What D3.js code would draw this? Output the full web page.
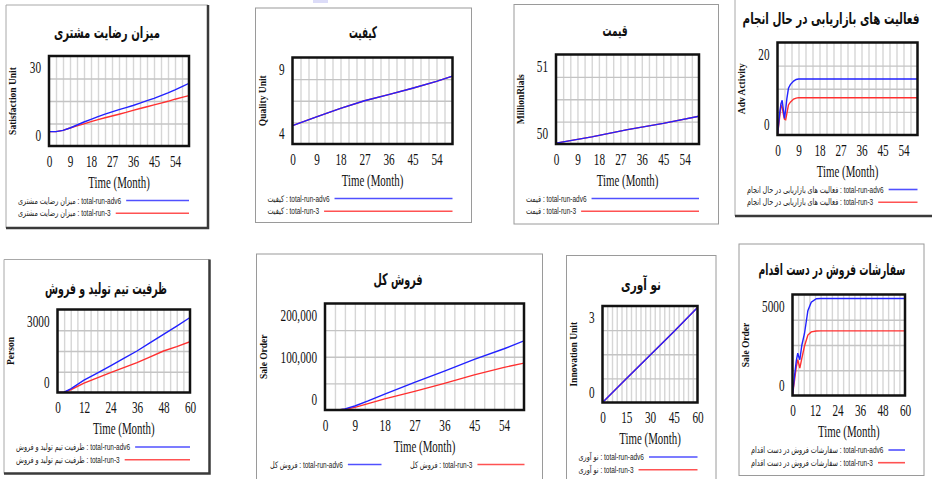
<!DOCTYPE html>
<html>
<head>
<meta charset="utf-8">
<title>Vensim runs</title>
<script src="https://cdn.jsdelivr.net/npm/d3@7"></script>
<style>
  body { margin: 0; background: #fff; }
  svg { display: block; }
</style>
</head>
<body>
<svg id="chart" width="932" height="479"></svg>
<script>
// ---- data ----
var runNames = ["total-run-adv6", "total-run-3"];

var titles = ["میزان رضایت مشتری", "کیفیت", "قیمت", "فعالیت های بازاریابی در حال انجام",
              "ظرفیت تیم تولید و فروش", "فروش کل", "نو آوری", "سفارشات فروش در دست اقدام"];
var units = ["Satisfaction Unit", "Quality Unit", "MillionRials", "Adv Activity",
             "Person", "Sale Order", "Innovation Unit", "Sale Order"];

var yRanges = [[0, 30], [4, 9], [50, 51], [0, 20], [0, 3000], [0, 200000], [0, 3], [0, 5000]];
var yTickValues = [[0, 30], [4, 9], [50, 51], [0, 20], [0, 3000], [0, 100000, 200000], [0, 3], [0, 5000]];
var yTickLabels = [["0", "30"], ["4", "9"], ["50", "51"], ["0", "20"], ["0", "3000"],
                   ["0", "100,000", "200,000"], ["0", "3"], ["0", "5000"]];

var ticks9 = [0, 9, 18, 27, 36, 45, 54];
var ticks12 = [0, 12, 24, 36, 48, 60];
var ticks15 = [0, 15, 30, 45, 60];
var xTickSets = [ticks9, ticks9, ticks9, ticks9, ticks12, ticks9, ticks15, ticks12];

// satisfaction
var satT    = [0, 3, 6, 9, 12, 15, 18, 21, 24, 27, 30, 33, 36, 39, 42, 45, 48, 51, 54, 57, 60];
var satAdv6 = [4.8, 4.8, 5.2, 6.0, 7.0, 8.0, 8.9, 9.8, 10.6, 11.4, 12.1, 12.8, 13.5, 14.3, 15.1, 15.9, 16.8, 17.7, 18.7, 19.8, 20.9];
var satRun3 = [4.8, 4.8, 5.2, 6.0, 6.7, 7.4, 8.1, 8.8, 9.4, 10.0, 10.6, 11.2, 11.9, 12.5, 13.1, 13.7, 14.3, 14.9, 15.6, 16.2, 16.8];
// quality
var qualT    = [0, 9, 18, 27, 36, 45, 54, 60];
var qualAdv6 = [5.06, 5.57, 6.06, 6.50, 6.85, 7.22, 7.62, 7.92];
var qualRun3 = [5.06, 5.57, 6.06, 6.50, 6.85, 7.22, 7.62, 7.92];
// price
var priceT    = [0, 15, 30, 45, 60];
var priceAdv6 = [50.01, 50.08, 50.16, 50.23, 50.31];
var priceRun3 = [50.01, 50.08, 50.16, 50.23, 50.31];
// advertising activity
var advT    = [0, 0.5, 1, 1.5, 2, 2.5, 3, 3.5, 4, 4.7, 5.5, 6.9, 8, 9, 60];
var advAdv6 = [0, 2.5, 5.0, 6.8, 7.5, 5.5, 3.6, 5.5, 7.8, 10.1, 10.9, 11.65, 12.0, 12.1, 12.1];
var advRun3 = [0, 2.0, 4.2, 6.4, 6.0, 4.5, 3.4, 3.3, 4.6, 6.5, 7.1, 7.76, 7.98, 8.07, 8.07];
// sales team capacity
var perT    = [0, 3, 6, 12, 18, 24, 30, 36, 42, 48, 54, 60];
var perAdv6 = [0, 10, 130, 450, 700, 960, 1230, 1500, 1800, 2100, 2400, 2710];
var perRun3 = [0, 10, 100, 340, 530, 720, 900, 1080, 1290, 1500, 1660, 1835];
// total sales
var salesT    = [0, 4, 6, 9, 13, 18, 27, 36, 45, 54, 60];
var salesAdv6 = [0, 300, 2000, 7500, 17000, 30000, 52000, 73000, 95000, 115000, 130000];
var salesRun3 = [0, 300, 1500, 5000, 12000, 21000, 35000, 50000, 66000, 80000, 88000];
// innovation
var innoT    = [0, 15, 30, 45, 60];
var innoAdv6 = [0, 0.74, 1.47, 2.2, 2.95];
var innoRun3 = [0, 0.74, 1.47, 2.2, 2.95];
// sale orders in progress
var ordT    = [0, 1, 2, 2.8, 3.4, 3.9, 5, 6.4, 8.2, 10, 12.7, 15, 60];
var ordAdv6 = [0, 900, 1700, 2100, 1900, 1770, 2500, 3070, 4200, 4620, 4790, 4800, 4800];
var ordRun3 = [0, 700, 1400, 1770, 1550, 1360, 1850, 2450, 2990, 3150, 3190, 3200, 3200];

var times = [satT, qualT, priceT, advT, perT, salesT, innoT, ordT];
var adv6  = [satAdv6, qualAdv6, priceAdv6, advAdv6, perAdv6, salesAdv6, innoAdv6, ordAdv6];
var run3  = [satRun3, qualRun3, priceRun3, advRun3, perRun3, salesRun3, innoRun3, ordRun3];

// ---- layout (pixels) ----
// frame: [left, top, right, bottom], plot: [left, top, right, bottom], title: [cx, cy, width]
var layout = [
  {frame: [6, 5, 208, 228],        shadow: true,  plot: [49, 56, 189, 146],        title: [107, 32, 106]},
  {frame: [255.5, 8, 471.5, 222.5], shadow: false, plot: [292.5, 57.5, 452.5, 144], title: [363, 32, 28]},
  {frame: [514, 4.5, 718.5, 224],  shadow: false, plot: [556, 54.5, 699, 144],     title: [615, 30, 25]},
  {frame: [735, -6, 945, 216],     shadow: true,  plot: [777.5, 42.5, 917.5, 135], title: [831, 18, 177]},
  {frame: [4, 259.5, 209.5, 473.5], shadow: true, plot: [57.5, 309.5, 190, 392.5],  title: [106, 288, 122]},
  {frame: [256.5, 254, 542.5, 485], shadow: false, plot: [325, 303.5, 524, 410],    title: [398, 279, 49],
   legendRow: [{x: 270, end: 381.5}, {x: 410, end: 524.5}]},
  {frame: [566.5, 255.5, 716, 485], shadow: false, plot: [602.5, 306, 697.5, 402.5], title: [641, 284, 40]},
  {frame: [739, 244, 924, 475.5],  shadow: false, plot: [792.5, 294.5, 905, 395.5], title: [832, 269, 147]}
];

var lineColors = ["#2222ff", "#ff3030"];
var legendColors = ["#5050ff", "#ff5252"];
var serif = "'Liberation Serif', 'Times New Roman', serif";
var sans = "'Liberation Sans', 'DejaVu Sans', sans-serif";
var persian = "'DejaVu Sans', sans-serif";

var svg = d3.select("#chart");
svg.append("rect").attr("width", 932).attr("height", 479).attr("fill", "#fff");
svg.append("rect").attr("x", 313).attr("y", 0).attr("width", 15).attr("height", 3).attr("fill", "#dcdcf8");

// squeeze text horizontally like the original picture
function squeeze(sel, k) {
  sel.each(function() {
    var w = this.getComputedTextLength();
    d3.select(this).attr("textLength", w * k).attr("lengthAdjust", "spacingAndGlyphs");
  });
}

layout.forEach(function(lay, i) {
  var f = lay.frame, p = lay.plot;
  var L = p[0], T = p[1], R = p[2], B = p[3];
  var g = svg.append("g");

  // frame
  if (lay.shadow) {
    g.append("path").attr("d", "M" + f[0] + "," + f[3] + "V" + f[1] + "H" + f[2])
      .attr("fill", "none").attr("stroke", "#a8a8a8").attr("stroke-width", 1);
    g.append("path").attr("d", "M" + f[0] + "," + f[3] + "H" + f[2] + "V" + f[1])
      .attr("fill", "none").attr("stroke", "#3a3a3a").attr("stroke-width", 2.5);
  } else {
    g.append("rect").attr("x", f[0]).attr("y", f[1])
      .attr("width", f[2] - f[0]).attr("height", f[3] - f[1])
      .attr("fill", "none").attr("stroke", "#9a9a9a").attr("stroke-width", 1);
  }

  var x = d3.scaleLinear().domain([0, 60]).range([L, R]);
  var y = d3.scaleLinear().domain(yRanges[i]).range([B, T]);

  // grid
  g.append("g").attr("transform", "translate(0," + B + ")")
    .call(d3.axisBottom(x).tickValues(d3.range(3, 60, 3)).tickSize(-(B - T)).tickFormat(""))
    .call(function(a) { a.select(".domain").remove(); })
    .selectAll("line").attr("stroke", "#d6d6d6").attr("stroke-width", 1.4);
  var yr = yRanges[i];
  var quarters = [1, 2, 3].map(function(k) { return yr[0] + (yr[1] - yr[0]) * k / 4; });
  g.append("g").attr("transform", "translate(" + L + ",0)")
    .call(d3.axisLeft(y).tickValues(quarters).tickSize(-(R - L)).tickFormat(""))
    .call(function(a) { a.select(".domain").remove(); })
    .selectAll("line").attr("stroke", "#c4c4c4").attr("stroke-width", 1.4);

  // series
  var clipId = "clip" + i;
  g.append("clipPath").attr("id", clipId).append("rect")
    .attr("x", L).attr("y", T - 1).attr("width", R - L).attr("height", B - T + 1);
  var series = [adv6[i], run3[i]];
  var t = times[i];
  [1, 0].forEach(function(s) {
    var pts = t.map(function(tv, k) { return [tv, series[s][k]]; });
    g.append("path").datum(pts)
      .attr("clip-path", "url(#" + clipId + ")")
      .attr("fill", "none").attr("stroke", lineColors[s]).attr("stroke-width", 1.4)
      .attr("d", d3.line().x(function(d) { return x(d[0]); }).y(function(d) { return y(d[1]); }));
  });

  // plot border
  g.append("rect").attr("x", L).attr("y", T).attr("width", R - L).attr("height", B - T)
    .attr("fill", "none").attr("stroke", "#111").attr("stroke-width", 2.5);

  // x axis labels
  var xa = g.append("g").attr("transform", "translate(0," + B + ")")
    .call(d3.axisBottom(x).tickValues(xTickSets[i]).tickSize(0));
  xa.select(".domain").remove();
  xa.selectAll("text").attr("y", 15).attr("dy", "0.35em")
    .attr("font-family", serif).attr("font-size", 16.5).attr("fill", "#111");

  // y axis labels
  var labels = yTickLabels[i];
  var ya = g.append("g").attr("transform", "translate(" + L + ",0)")
    .call(d3.axisLeft(y).tickValues(yTickValues[i]).tickSize(0)
      .tickFormat(function(d, k) { return labels[k]; }));
  ya.select(".domain").remove();
  ya.selectAll("text").attr("x", -8).attr("dy", "0.35em")
    .attr("y", function(d) { return d === yr[0] ? -11 : (d === yr[1] ? 11 : 0); })
    .attr("font-family", serif).attr("font-size", 16.5).attr("fill", "#111");

  // axis titles
  g.append("text").attr("class", "sq")
    .attr("x", (L + R) / 2).attr("y", B + 36).attr("dy", "0.35em")
    .attr("text-anchor", "middle").attr("font-family", serif).attr("font-size", 17)
    .attr("fill", "#111").text("Time (Month)");
  g.append("text")
    .attr("transform", "translate(" + (f[0] + 7) + "," + ((T + B) / 2) + ") rotate(-90)")
    .attr("dy", "0.35em").attr("text-anchor", "middle")
    .attr("font-family", serif).attr("font-size", 9.5).attr("font-weight", "bold")
    .attr("fill", "#111").text(units[i]);

  // title, scaled to the width it has in the picture
  var ttl = g.append("text")
    .attr("dy", "0.35em").attr("text-anchor", "middle").attr("font-family", persian)
    .attr("font-size", 16).attr("font-weight", "bold").attr("fill", "#111")
    .text(titles[i]);
  var kx = lay.title[2] / ttl.node().getComputedTextLength();
  ttl.attr("transform", "translate(" + lay.title[0] + "," + lay.title[1] + ") scale(" + kx + ",1)");

  // legend
  runNames.forEach(function(run, s) {
    var lx, ly, lend;
    if (lay.legendRow) {
      lx = lay.legendRow[s].x; lend = lay.legendRow[s].end; ly = B + 54.5;
    } else {
      lx = f[0] + 12; lend = R; ly = B + 54.5 + s * 12.7;
    }
    var txt = g.append("text").attr("x", lx).attr("y", ly).attr("dy", "0.35em")
      .attr("font-family", sans).attr("font-size", 9).attr("fill", "#222")
      .text(titles[i] + " : " + run);
    var w = txt.node().getComputedTextLength() * 0.72;
    txt.attr("textLength", w).attr("lengthAdjust", "spacingAndGlyphs");
    g.append("line").attr("x1", lx + w + 5).attr("x2", lend).attr("y1", ly).attr("y2", ly)
      .attr("stroke", legendColors[s]).attr("stroke-width", 1.6);
  });

  squeeze(xa.selectAll("text"), 0.68);
  squeeze(ya.selectAll("text"), 0.68);
  squeeze(g.selectAll("text.sq"), 0.64);
});
</script>
</body>
</html>
